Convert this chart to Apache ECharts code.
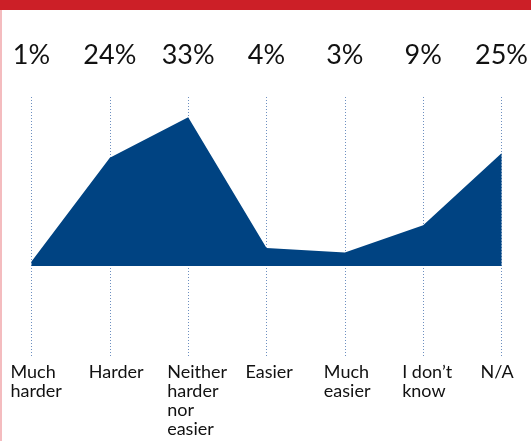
<!DOCTYPE html>
<html>
<head>
<meta charset="utf-8">
<script src="https://cdn.jsdelivr.net/npm/echarts@6/dist/echarts.min.js"></script>
<style>
html,body{margin:0;padding:0;background:#fff;}
#c{width:531px;height:441px;}
</style>
</head>
<body>
<div id="c"></div>
<script>
const categories = ['Much\nharder', 'Harder', 'Neither\nharder\nnor\neasier', 'Easier', 'Much\neasier', 'I don\u2019t\nknow', 'N/A'];
const values = [1, 24, 33, 4, 3, 9, 25];
const topLabels = values.map(v => v + '%');

const chart = echarts.init(document.getElementById('c'), null, {renderer: 'canvas'});
chart.setOption({
  animation: false,
  backgroundColor: '#fff',
  graphic: [
    {type: 'rect', left: 0, top: 0, shape: {width: 531, height: 10}, style: {fill: '#cc1f27'}, z: 10},
    {type: 'rect', left: 0, top: 10, shape: {width: 2, height: 431}, style: {fill: '#f4bcbf'}, z: 10}
  ],
  grid: {left: 31.5, right: 24.4, top: 97, bottom: 85},
  xAxis: [
    {
      type: 'category',
      data: categories,
      boundaryGap: false,
      position: 'bottom',
      axisLine: {show: false},
      axisTick: {show: false},
      axisLabel: {
        interval: 0,
        align: 'left',
        verticalAlign: 'top',
        padding: [0, 0, 0, -21],
        margin: 7,
        fontFamily: 'Lato',
        fontSize: 18,
        lineHeight: 19,
        color: '#111'
      },
      splitLine: {show: true, lineStyle: {color: '#6d8fc0', type: [1, 2], width: 1}}
    },
    {
      type: 'category',
      data: topLabels,
      boundaryGap: false,
      position: 'top',
      axisLine: {show: false},
      axisTick: {show: false},
      axisLabel: {
        interval: 0,
        margin: 28,
        fontFamily: 'Lato',
        fontSize: 27,
        color: '#111'
      },
      splitLine: {show: false}
    }
  ],
  yAxis: {
    type: 'value',
    min: -20,
    max: 37.5,
    show: false,
    splitLine: {show: false}
  },
  series: [{
    type: 'line',
    data: values,
    xAxisIndex: 0,
    symbol: 'none',
    lineStyle: {width: 0, color: '#004382'},
    areaStyle: {color: '#004382', opacity: 1, origin: 0},
    z: 3
  }]
});
</script>
</body>
</html>
